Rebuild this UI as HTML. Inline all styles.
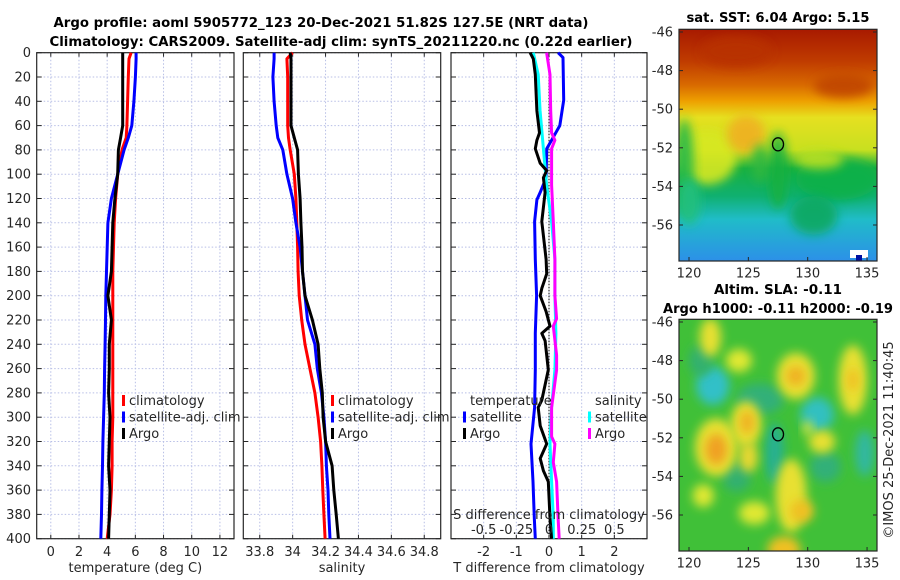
<!DOCTYPE html>
<html><head><meta charset="utf-8"><title>Argo profile chart</title>
<style>
html,body{margin:0;padding:0;background:#fff;}
svg{display:block;font-family:"DejaVu Sans","Liberation Sans",sans-serif;}
text{fill:#262626;}
.t{font-size:13px;}
.b{font-weight:bold;font-size:13.5px;fill:#000;}
</style></head>
<body>
<svg id="chart" width="900" height="580" viewBox="0 0 900 580">
<defs>
<clipPath id="clip1"><rect x="679" y="29.3" width="198" height="231.7"/></clipPath>
<clipPath id="clip2"><rect x="679" y="319.3" width="198" height="231.7"/></clipPath>
<filter id="blur6" x="-50%" y="-50%" width="200%" height="200%"><feGaussianBlur stdDeviation="5"/></filter>
<filter id="blur3" x="-50%" y="-50%" width="200%" height="200%"><feGaussianBlur stdDeviation="5"/></filter>
<linearGradient id="sstGrad" x1="0" y1="0" x2="0" y2="1">
<stop offset="0" stop-color="#a81a00"/><stop offset="0.14" stop-color="#c03c00"/>
<stop offset="0.24" stop-color="#d86a00"/><stop offset="0.31" stop-color="#eea000"/>
<stop offset="0.38" stop-color="#e6e020"/><stop offset="0.52" stop-color="#c8e020"/>
<stop offset="0.6" stop-color="#18b040"/><stop offset="0.72" stop-color="#10b070"/>
<stop offset="0.82" stop-color="#20bcc8"/><stop offset="1" stop-color="#2c90e8"/>
</linearGradient>
</defs>
<g id="titles">
<text class="b" x="321" y="27" text-anchor="middle" textLength="535" lengthAdjust="spacingAndGlyphs">Argo profile: aoml 5905772_123 20-Dec-2021 51.82S 127.5E (NRT data)</text>
<text class="b" x="341" y="46" text-anchor="middle" textLength="583" lengthAdjust="spacingAndGlyphs">Climatology: CARS2009. Satellite-adj clim: synTS_20211220.nc (0.22d earlier)</text>
</g>
<g id="panels"></g>
<g id="maps"></g>
</svg>
<script>
const NS="http://www.w3.org/2000/svg";
// ---- data ----
const depths=[0,5,20,40,60,70,80,100,120,140,160,180,200,220,240,260,280,300,320,340,360,380,400];
const tempClim=[5.7,5.55,5.5,5.45,5.4,5.35,5.05,4.75,4.6,4.5,4.45,4.4,4.4,4.4,4.4,4.4,4.4,4.4,4.35,4.35,4.3,4.2,4.0];
const tempSat=[6.05,6.05,6.0,5.9,5.75,5.5,5.2,4.75,4.3,4.05,4.0,3.95,3.9,3.88,3.85,3.82,3.8,3.75,3.7,3.67,3.63,3.6,3.55];
const tempArgo=[5.1,5.1,5.1,5.1,5.1,4.95,4.8,4.75,4.55,4.4,4.35,4.3,4.05,4.3,4.15,4.15,4.1,4.2,4.15,4.1,4.2,4.15,4.1];
const salClim=[34.0,33.965,33.97,33.97,33.97,33.975,33.985,34.01,34.02,34.025,34.03,34.033,34.04,34.055,34.075,34.105,34.135,34.155,34.17,34.178,34.183,34.19,34.197];
const salSat=[33.887,33.887,33.88,33.887,33.9,33.91,33.94,33.965,34.0,34.02,34.045,34.06,34.075,34.09,34.135,34.15,34.175,34.19,34.2,34.205,34.215,34.22,34.227];
const salArgo=[33.985,33.99,33.99,33.99,33.99,34.01,34.03,34.035,34.045,34.05,34.057,34.06,34.075,34.12,34.155,34.165,34.18,34.185,34.2,34.24,34.25,34.265,34.278];
const tdSatDepths=[0,4,39,60,72,79,103,115,121,139,170,200,231,261,292,322,353,383,400];
const tdSat=[0.28,0.43,0.45,0.33,0.08,-0.07,-0.09,-0.27,-0.37,-0.44,-0.42,-0.38,-0.42,-0.42,-0.44,-0.55,-0.49,-0.45,-0.42];
const tdArgoDepths=[0,5,18,48,66,72,79,91,97,103,115,139,170,182,194,200,213,225,231,237,261,286,292,307,322,334,344,353,383,400];
const tdArgo=[-0.58,-0.48,-0.42,-0.37,-0.29,-0.37,-0.42,-0.27,-0.07,-0.17,-0.12,-0.22,-0.09,-0.07,-0.22,-0.27,-0.09,0.03,-0.22,-0.12,-0.02,-0.22,-0.33,-0.27,-0.07,-0.27,-0.17,-0.02,0.03,0.08];
const sdSatDepths=[0,18,48,79,109,139,170,200,231,261,292,322,353,383,400];
const sdSat=[-0.12,-0.083,-0.068,-0.043,-0.018,0.02,0.045,0.045,0.053,0.045,0.02,0.008,0.02,0.033,0.033];
const sdArgoDepths=[0,18,48,66,72,79,109,139,170,200,219,225,249,261,292,316,322,337,353,383,400];
const sdArgo=[-0.018,0.008,0.013,0.02,0.045,0.02,0.02,0.033,0.045,0.045,0.058,0.033,0.058,0.058,0.02,0.02,0.045,0.033,0.058,0.07,0.078];
const depthTicks=[0,20,40,60,80,100,120,140,160,180,200,220,240,260,280,300,320,340,360,380,400];
const tempTicks=[0,2,4,6,8,10,12];
const salTicks=[33.8,34,34.2,34.4,34.6,34.8];
const tdTicks=[-2,-1,0,1,2];
const sdTicks=[-0.5,-0.25,0,0.25,0.5];
const latTicks=[-46,-48,-50,-52,-54,-56];
const lonTicks=[120,125,130,135];
const argoLon=127.5, argoLat=-51.82;

const Y0=52.7,Y1=538.7;
const yD=d=>Y0+(d/400)*(Y1-Y0);
function mk(tag,attrs,parent){const e=document.createElementNS(NS,tag);for(const k in attrs)e.setAttribute(k,attrs[k]);parent.appendChild(e);return e;}
const panels=document.getElementById('panels');

function panel(id,x0,x1,xmin,xmax,ticks,fmt,xlabel,showY){
  const g=mk('g',{},panels);
  
  
  const sx=v=>x0+(v-xmin)/(xmax-xmin)*(x1-x0);
  ticks.forEach(t=>{const x=sx(t);
    const l=mk('line',{x1:x,x2:x,y1:Y0,y2:Y1,stroke:'#b8bfe6','stroke-width':1,'stroke-dasharray':'1.5,2'},g);
    
    mk('line',{x1:x,x2:x,y1:Y1,y2:Y1-4,stroke:'#262626'},g);
    mk('line',{x1:x,x2:x,y1:Y0,y2:Y0+4,stroke:'#262626'},g);
    const tx=mk('text',{x:x,y:556,'text-anchor':'middle',class:'t'},g);tx.textContent=fmt(t);
    
  });
  depthTicks.forEach(d=>{const y=yD(d);
    const l=mk('line',{x1:x0,x2:x1,y1:y,y2:y,stroke:'#b8bfe6','stroke-width':1,'stroke-dasharray':'1.5,2'},g);
    
    mk('line',{x1:x0,x2:x0+5,y1:y,y2:y,stroke:'#262626'},g);
    mk('line',{x1:x1,x2:x1-5,y1:y,y2:y,stroke:'#262626'},g);
    if(showY){const tx=mk('text',{x:31,y:y+4.5,'text-anchor':'end',class:'t'},g);tx.textContent=d;
      }
  });
  const r=mk('rect',{x:x0,y:Y0,width:x1-x0,height:Y1-Y0,fill:'none',stroke:'#262626','stroke-width':1.2},g);
  
  const xl=mk('text',{x:(x0+x1)/2,y:572,'text-anchor':'middle',class:'t'},g);xl.textContent=xlabel;
  
  return {g,sx};
}
function line(p,vals,ds,color,name,scale){
  const pts=vals.map((v,i)=>p.sx(v*(scale||1)).toFixed(1)+','+yD(ds[i]).toFixed(1)).join(' ');
  const l=mk('polyline',{points:pts,fill:'none',stroke:color,'stroke-width':3,'stroke-linejoin':'round'},p.g);
  
}
function legend(p,x,y,items){
  items.forEach((it,i)=>{const yy=y+i*16.5;
    const m=mk('rect',{x:x,y:yy-10,width:3,height:11,fill:it[1]},p.g);
    
    const t=mk('text',{x:x+7,y:yy,class:'t'},p.g);t.textContent=it[0];
    
  });
}
const p1=panel('temperature-panel',36.7,234,-1,13,tempTicks,v=>String(v),'temperature (deg C)',true);
line(p1,tempClim,depths,'#ff0000','temp-climatology-line');
line(p1,tempSat,depths,'#0000ff','temp-satellite-line');
line(p1,tempArgo,depths,'#000000','temp-argo-line');
legend(p1,122,405,[['climatology','#ff0000'],['satellite-adj. clim','#0000ff'],['Argo','#000000']]);

const p2=panel('salinity-panel',243.3,440.7,33.7,34.9,salTicks,v=>String(v),'salinity',false);
line(p2,salClim,depths,'#ff0000','sal-climatology-line');
line(p2,salSat,depths,'#0000ff','sal-satellite-line');
line(p2,salArgo,depths,'#000000','sal-argo-line');
legend(p2,331,405,[['climatology','#ff0000'],['satellite-adj. clim','#0000ff'],['Argo','#000000']]);

const p3=panel('difference-panel',451,647,-3,3,tdTicks,v=>String(v),'T difference from climatology',false);
const zl=mk('line',{x1:p3.sx(0),x2:p3.sx(0),y1:Y0,y2:Y1,stroke:'#333','stroke-width':1.2,'stroke-dasharray':'1.5,1.5'},p3.g);

line(p3,tdSat,tdSatDepths,'#0000ff','tdiff-satellite-line');
line(p3,sdSat,sdSatDepths,'#00ffff','sdiff-satellite-line',4);
line(p3,tdArgo,tdArgoDepths,'#000000','tdiff-argo-line');
line(p3,sdArgo,sdArgoDepths,'#ff00ff','sdiff-argo-line',4);
(function(){const t=mk('text',{x:470,y:405,class:'t'},p3.g);t.textContent='temperature';
 
 const s=mk('text',{x:595,y:405,class:'t'},p3.g);s.textContent='salinity';
 })();
legend(p3,463,421.5,[['satellite','#0000ff'],['Argo','#000000']]);
legend(p3,588,421.5,[['satellite','#00ffff'],['Argo','#ff00ff']]);
(function(){const t=mk('text',{x:549,y:519,'text-anchor':'middle',class:'t'},p3.g);t.textContent='S difference from climatology';
 
 sdTicks.forEach(v=>{const x=p3.sx(v*4);const tx=mk('text',{x:x,y:534,'text-anchor':'middle',class:'t'},p3.g);tx.textContent=String(v);
 });})();

// ---- maps ----
const maps=document.getElementById('maps');
const mx=lon=>689+(lon-120)*11.87;
function mapFrame(top,name,clip){
  const g=mk('g',{},maps);
  
  const my=lat=>top+2.7+(-46-lat)*19.3;
  const inner=mk('g',{'clip-path':'url(#'+clip+')'},g);
  return {g,inner,my,top};
}
function finishMap(m){
  const g=m.g,top=m.top;
  mk('rect',{x:679,y:top,width:198,height:231.7,fill:'none',stroke:'#262626','stroke-width':1.2},g);
  latTicks.forEach(l=>{const y=m.my(l);mk('line',{x1:679,x2:683,y1:y,y2:y,stroke:'#262626'},g);mk('line',{x1:877,x2:873,y1:y,y2:y,stroke:'#262626'},g);
    const t=mk('text',{x:673,y:y+4.5,'text-anchor':'end',class:'t'},g);t.textContent=l;
    });
  lonTicks.forEach(l=>{const x=mx(l);mk('line',{x1:x,x2:x,y1:top+231.7,y2:top+227.7,stroke:'#262626'},g);
    const t=mk('text',{x:x,y:top+248,'text-anchor':'middle',class:'t'},g);t.textContent=l;
    });
  const c=mk('ellipse',{cx:mx(argoLon),cy:m.my(argoLat),rx:5.5,ry:6.5,fill:'none',stroke:'#000','stroke-width':1.3},g);
  
}
// SST map
const m1=mapFrame(29.3,'sst-map','clip1');
mk('rect',{x:679,y:29.3,width:198,height:231.7,fill:'url(#sstGrad)'},m1.inner);
const sstBlobs=[
 [121.5,-52.5,2.5,1.4,'#d8e820'],[124.8,-51.3,1.6,1.0,'#f0b020'],[119.6,-53,0.8,2.5,'#20b848'],
 [127.5,-53.2,0.8,2.0,'#18b040'],[126,-52.8,0.7,1.0,'#30b840'],[132.5,-53.6,3.5,1.1,'#10b048'],
 [131,-52.6,2,0.5,'#b8e020'],[120,-54.8,1,1.2,'#20c080'],[130.5,-55.5,2,1,'#10a860'],
 [124,-47,3,0.8,'#b83000'],[133,-48.8,2.5,0.6,'#c04400']];
sstBlobs.forEach(b=>{const e=mk('ellipse',{cx:mx(b[0]),cy:m1.my(b[1]),rx:b[2]*11.87,ry:b[3]*19.3,fill:b[4],filter:'url(#blur6)',opacity:0.9},m1.inner);
 });
mk('rect',{x:850,y:250,width:18,height:8,fill:'#fff'},m1.inner);
mk('rect',{x:856,y:255,width:6,height:6,fill:'#0010a0'},m1.inner);
finishMap(m1);
(function(){const t=mk('text',{x:778,y:22,'text-anchor':'middle',class:'b',textLength:183,lengthAdjust:'spacingAndGlyphs'},maps);t.textContent='sat. SST: 6.04 Argo: 5.15';
 })();

// SLA map
const m2=mapFrame(319.3,'sla-map','clip2');
mk('rect',{x:679,y:319.3,width:198,height:231.7,fill:'#40c038'},m2.inner);
const slaBlobs=[
 [122,-49.3,1.4,1.0,'#30c0c8'],[130.8,-50.8,1.4,0.9,'#30c0c0'],[127.2,-52.8,0.8,1.6,'#28b090'],
 [126,-50,2,0.8,'#30b078'],[131.5,-53.5,1.3,0.8,'#30b078'],[134.8,-52.8,0.8,1.2,'#30b8a0'],
 [124,-54,1.2,0.8,'#30b070'],[121,-48,1,0.8,'#30b070'],
 [122.3,-52.5,1.8,1.5,'#e8e030'],[122.3,-52.6,0.9,0.8,'#f0a020'],
 [124.8,-51.3,1.3,1.2,'#e8e030'],[124.9,-51.2,0.6,0.6,'#f0b020'],
 [125,-53,0.8,0.8,'#e8d830'],[129,-48.8,1.6,1.2,'#e8e030'],[129,-48.8,0.8,0.5,'#f0b020'],
 [133.8,-49,1.2,1.8,'#e8e030'],[133.8,-49,0.5,0.6,'#f0c020'],[121.8,-46.8,0.9,1.0,'#e8e030'],
 [128.6,-55,1.3,1.9,'#e8e030'],[129.5,-55.8,1,0.6,'#f0c020'],[128,-57.8,1.4,0.7,'#f0c020'],
 [131.2,-52.2,1.1,0.6,'#e8e030'],[124.2,-48,1.1,0.6,'#e0e830'],[121.2,-55,0.9,0.6,'#e0e830'],
 [125.5,-55.9,1.3,0.6,'#e0e830'],[130,-51.5,0.4,0.4,'#e0e830']];
slaBlobs.forEach(b=>{const e=mk('ellipse',{cx:mx(b[0]),cy:m2.my(b[1]),rx:b[2]*11.87,ry:b[3]*19.3,fill:b[4],filter:'url(#blur3)'},m2.inner);
 });
finishMap(m2);
(function(){const t=mk('text',{x:778,y:294,'text-anchor':'middle',class:'b'},maps);t.textContent='Altim. SLA: -0.11';
 
 const t2=mk('text',{x:778,y:313,'text-anchor':'middle',class:'b',textLength:230,lengthAdjust:'spacingAndGlyphs'},maps);t2.textContent='Argo h1000: -0.11 h2000: -0.19';
 
 const c=mk('text',{x:0,y:0,'text-anchor':'middle',class:'t',transform:'translate(893,440) rotate(-90)'},maps);c.textContent='©IMOS 25-Dec-2021 11:40:45';
 })();
</script>
</body></html>
